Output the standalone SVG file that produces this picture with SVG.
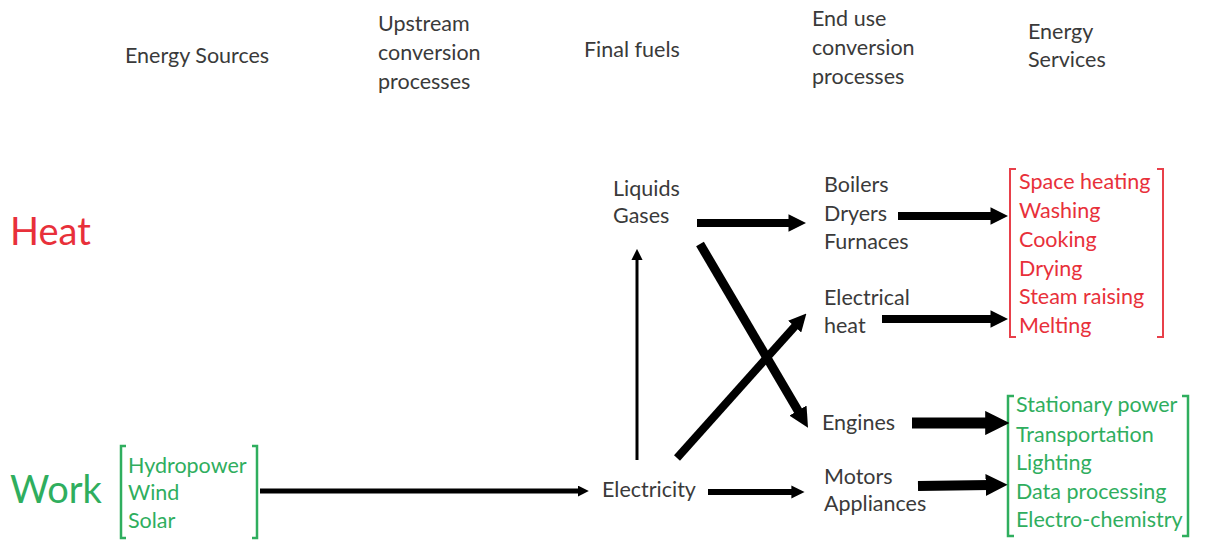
<svg xmlns="http://www.w3.org/2000/svg" width="1205" height="540" viewBox="0 0 1205 540">
<defs>
<style>
text{font-family:Lato,"Open Sans","Liberation Sans",sans-serif;font-size:21.5px;fill:#3a3a3a}
.red{fill:#e8303a}
.grn{fill:#2fae5e}
.big{font-size:38px}
.c{stroke:#000;fill:none}
.brR{stroke:#e8404a;stroke-width:2;fill:none}
.brG{stroke:#2fae5e;stroke-width:2.5;fill:none}
</style>
<marker id="ah" viewBox="0 0 10 10" refX="2" refY="5" markerWidth="2.2" markerHeight="2.2" orient="auto" markerUnits="strokeWidth">
<path d="M0,0 L10,5 L0,10 z" fill="#000"/>
</marker>
<marker id="ahThin" viewBox="0 0 10 10" refX="2" refY="5" markerWidth="3.8" markerHeight="3.8" orient="auto" markerUnits="strokeWidth">
<path d="M0,0 L10,5 L0,10 z" fill="#000"/>
</marker>
</defs>
<rect width="1205" height="540" fill="#fff"/>

<g id="headers">
<text x="125" y="63">Energy Sources</text>
<text x="378" y="31">Upstream</text>
<text x="378" y="60">conversion</text>
<text x="378" y="89">processes</text>
<text x="584" y="57">Final fuels</text>
<text x="812" y="26">End use</text>
<text x="812" y="55">conversion</text>
<text x="812" y="84">processes</text>
<text x="1028" y="39">Energy</text>
<text x="1028" y="67">Services</text>
</g>

<g id="heat-label"><text class="red big" x="10" y="245">Heat</text></g>
<g id="work-label"><text class="grn big" x="10" y="503">Work</text></g>

<g id="sources">
<path class="brG" d="M126,446 H121 V538 H126 M252,446 H257 V538 H252"/>
<text class="grn" x="128" y="473">Hydropower</text>
<text class="grn" x="128" y="500">Wind</text>
<text class="grn" x="128" y="528">Solar</text>
</g>

<g id="electricity"><text x="602" y="497">Electricity</text></g>
<g id="liquids-gases">
<text x="613" y="196">Liquids</text>
<text x="613" y="223">Gases</text>
</g>
<g id="boilers">
<text x="824" y="192">Boilers</text>
<text x="824" y="221">Dryers</text>
<text x="824" y="249">Furnaces</text>
</g>
<g id="electrical-heat">
<text x="824" y="305">Electrical</text>
<text x="824" y="333">heat</text>
</g>
<g id="engines"><text x="822" y="430">Engines</text></g>
<g id="motors">
<text x="824" y="484">Motors</text>
<text x="824" y="511">Appliances</text>
</g>

<g id="heat-services">
<path class="brR" d="M1016,169 H1010 V337 H1016 M1157,169 H1163 V337 H1157"/>
<text class="red" x="1019" y="189">Space heating</text>
<text class="red" x="1019" y="218">Washing</text>
<text class="red" x="1019" y="247">Cooking</text>
<text class="red" x="1019" y="276">Drying</text>
<text class="red" x="1019" y="304">Steam raising</text>
<text class="red" x="1019" y="333">Melting</text>
</g>

<g id="work-services">
<path class="brG" d="M1014,396 H1008 V536 H1014 M1182,396 H1188 V536 H1182"/>
<text class="grn" x="1016" y="412">Stationary power</text>
<text class="grn" x="1016" y="442">Transportation</text>
<text class="grn" x="1016" y="470">Lighting</text>
<text class="grn" x="1016" y="499">Data processing</text>
<text class="grn" x="1016" y="527">Electro-chemistry</text>
</g>

<g id="connectors">
<line class="c" x1="260" y1="491" x2="580" y2="491" stroke-width="5" marker-end="url(#ah)"/>
<line class="c" x1="637" y1="460" x2="637" y2="258" stroke-width="3" marker-end="url(#ahThin)"/>
<line class="c" x1="697" y1="223" x2="792" y2="223" stroke-width="8" marker-end="url(#ah)"/>
<line class="c" x1="898" y1="216" x2="994" y2="216" stroke-width="8" marker-end="url(#ah)"/>
<line class="c" x1="882" y1="319" x2="994" y2="319" stroke-width="8" marker-end="url(#ah)"/>
<line class="c" x1="700" y1="244" x2="800" y2="414" stroke-width="9" marker-end="url(#ah)"/>
<line class="c" x1="677" y1="458" x2="797" y2="324" stroke-width="8" marker-end="url(#ah)"/>
<line class="c" x1="912" y1="423" x2="990" y2="423" stroke-width="11" marker-end="url(#ah)"/>
<line class="c" x1="708" y1="492" x2="794" y2="492" stroke-width="6" marker-end="url(#ah)"/>
<line class="c" x1="918" y1="486" x2="990" y2="485" stroke-width="10" marker-end="url(#ah)"/>
</g>
</svg>
